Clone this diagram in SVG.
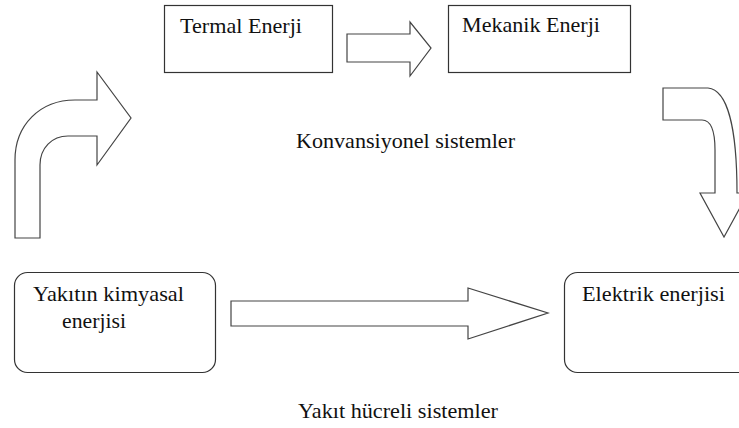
<svg xmlns="http://www.w3.org/2000/svg" width="739" height="428" viewBox="0 0 739 428">
<style>
.box{fill:#fff;stroke:#333;stroke-width:1.2}
.arr{fill:#fff;stroke:#444;stroke-width:1.2;stroke-linejoin:miter}
.t{font-family:'Liberation Serif','Times New Roman','DejaVu Serif',serif;font-size:21.5px;fill:#111}
</style>
<rect width="739" height="428" fill="#fff"/>
<g id="termal"><rect class="box" x="164.5" y="5.5" width="168" height="67"/><text class="t" x="180" y="33" textLength="122" lengthAdjust="spacingAndGlyphs">Termal Enerji</text></g>
<g id="mekanik"><rect class="box" x="448.5" y="5.5" width="182" height="67"/><text class="t" x="462" y="32" textLength="138" lengthAdjust="spacingAndGlyphs">Mekanik Enerji</text></g>
<g id="yakit"><rect class="box" x="14.5" y="272.5" width="201" height="100" rx="13"/><text class="t" x="33" y="301" textLength="151" lengthAdjust="spacingAndGlyphs">Yakıtın kimyasal</text><text class="t" x="62" y="328" textLength="64" lengthAdjust="spacingAndGlyphs">enerjisi</text></g>
<g id="elektrik"><rect class="box" x="564.5" y="272.5" width="190" height="100" rx="13"/><text class="t" x="582" y="301" textLength="143" lengthAdjust="spacingAndGlyphs">Elektrik enerjisi</text></g>
<g id="connectors">
<path class="arr" d="M15,238 L15,160 C15,125 40,100 75,100 L97,100 L97,72 L131,118 L97,165 L97,136 L68,136 C52,136 40,148 40,165 L40,238 Z"/>
<path class="arr" d="M347,34 L410,34 L410,22 L431,48 L410,76 L410,62 L347,62 Z"/>
<path class="arr" d="M663,88 L708,88 C728,90 737,130 737,193 L748,193 L724,237 L700,193 L715,193 L715,150 C715,130 710,120 702,120 L663,120 Z"/>
<path class="arr" d="M231,301 L468,301 L468,288 L548,313 L468,339 L468,326 L231,326 Z"/>
</g>
<text class="t" x="296" y="148" textLength="219" lengthAdjust="spacingAndGlyphs">Konvansiyonel sistemler</text>
<text class="t" x="298" y="418" textLength="200" lengthAdjust="spacingAndGlyphs">Yakıt hücreli sistemler</text>
</svg>
